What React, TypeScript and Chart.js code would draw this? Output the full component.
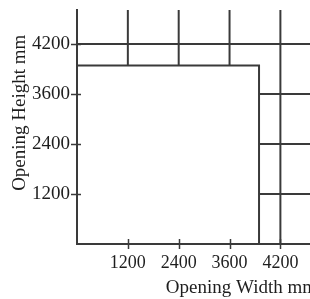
import React, { useEffect, useRef } from "react";
import { Chart, registerables } from "chart.js";

Chart.register(...registerables);

// Tick labels (placed at evenly spaced steps 1..4 on each axis)
const widthTickLabels = ["1200", "2400", "3600", "4200"];
const heightTickLabels = ["1200", "2400", "3600", "4200"];
const widthTickSteps = [1, 2, 3, 4];
const heightTickSteps = [1, 2, 3, 4];

// Opening limits, in tick steps
const openingWidthLimit = 3.58;
const openingHeightLimit = 3.57;

// Axis extents, in tick steps
const widthAxisMax = 4.72;
const heightAxisMax = 4.68;

const xTitle = "Opening Width mm";
const yTitle = "Opening Height mm";

const LINE = "#3a3a3a";
const TEXT = "#1e1e1e";
const FONT = "'Liberation Serif', 'Times New Roman', serif";

const crossTicks = {
  id: "crossTicks",
  afterDraw(chart: any) {
    const { ctx } = chart;
    const x = chart.scales.x;
    const y = chart.scales.y;
    ctx.save();
    ctx.strokeStyle = LINE;
    ctx.lineWidth = 1.5;
    ctx.beginPath();
    x.ticks.forEach((t: any) => {
      const px = Math.round(x.getPixelForValue(t.value)) + 0.5;
      ctx.moveTo(px, x.top - 5);
      ctx.lineTo(px, x.top + 5);
    });
    y.ticks.forEach((t: any) => {
      const py = Math.round(y.getPixelForValue(t.value)) + 0.5;
      ctx.moveTo(y.right - 6, py);
      ctx.lineTo(y.right + 4, py);
    });
    ctx.stroke();
    ctx.restore();
  },
};

function seg(points: { x: number; y: number }[]) {
  return {
    data: points,
    borderColor: LINE,
    borderWidth: 2,
    pointRadius: 0,
    fill: false,
    tension: 0,
  };
}

export default function App() {
  const ref = useRef<HTMLCanvasElement>(null);

  useEffect(() => {
    if (!ref.current) return;
    const W = openingWidthLimit;
    const H = openingHeightLimit;
    const datasets: any[] = [];
    // opening boundary
    datasets.push(seg([{ x: 0, y: H }, { x: W, y: H }, { x: W, y: 0 }]));
    // vertical lines above the opening
    widthTickSteps.forEach((s) => {
      const fromY = s < W ? H : 0;
      datasets.push(seg([{ x: s, y: fromY }, { x: s, y: heightAxisMax }]));
    });
    // horizontal lines to the right of the opening
    heightTickSteps.forEach((s) => {
      const fromX = s < H ? W : 0;
      datasets.push(seg([{ x: fromX, y: s }, { x: widthAxisMax, y: s }]));
    });

    const chart = new Chart(ref.current, {
      type: "line",
      data: { datasets },
      plugins: [crossTicks],
      options: {
        animation: false,
        responsive: false,
        devicePixelRatio: 1,
        layout: { padding: { left: 0, right: 13, top: 10, bottom: 0 } },
        plugins: { legend: { display: false }, tooltip: { enabled: false } },
        scales: {
          x: {
            type: "linear",
            min: 0,
            max: widthAxisMax,
            grid: { display: false, drawTicks: false },
            border: { display: true, color: LINE, width: 2 },
            afterBuildTicks: (s: any) => {
              s.ticks = widthTickSteps.map((v) => ({ value: v }));
            },
            afterFit: (s: any) => {
              s.height = 55;
              s.paddingLeft = 0;
              s.paddingRight = 0;
            },
            ticks: {
              padding: 8,
              color: TEXT,
              font: { family: FONT, size: 18 },
              maxRotation: 0,
              autoSkip: false,
              callback: (v: any) => widthTickLabels[widthTickSteps.indexOf(Number(v))] ?? "",
            },
            title: {
              display: true,
              text: xTitle,
              align: "end",
              color: TEXT,
              font: { family: FONT, size: 19 },
              padding: { top: 0, bottom: 0 },
            },
          },
          y: {
            type: "linear",
            min: 0,
            max: heightAxisMax,
            grid: { display: false, drawTicks: false },
            border: { display: true, color: LINE, width: 2 },
            afterBuildTicks: (s: any) => {
              s.ticks = heightTickSteps.map((v) => ({ value: v }));
            },
            afterFit: (s: any) => {
              s.width = 77;
              s.paddingTop = 0;
              s.paddingBottom = 0;
            },
            ticks: {
              padding: 7,
              color: TEXT,
              font: { family: FONT, size: 19 },
              autoSkip: false,
              callback: (v: any) => heightTickLabels[heightTickSteps.indexOf(Number(v))] ?? "",
            },
            title: {
              display: true,
              text: "      " + yTitle,
              color: TEXT,
              font: { family: FONT, size: 19 },
              padding: { top: 9, bottom: 0 },
            },
          },
        },
      },
    } as any);
    return () => chart.destroy();
  }, []);

  return (
    <div
      style={{
        position: "fixed",
        left: 0,
        top: 0,
        width: 310,
        height: 299,
        overflow: "hidden",
        background: "#fff",
      }}
    >
      <canvas ref={ref} width={330} height={299} style={{ display: "block", width: 330, height: 299 }} />
    </div>
  );
}
